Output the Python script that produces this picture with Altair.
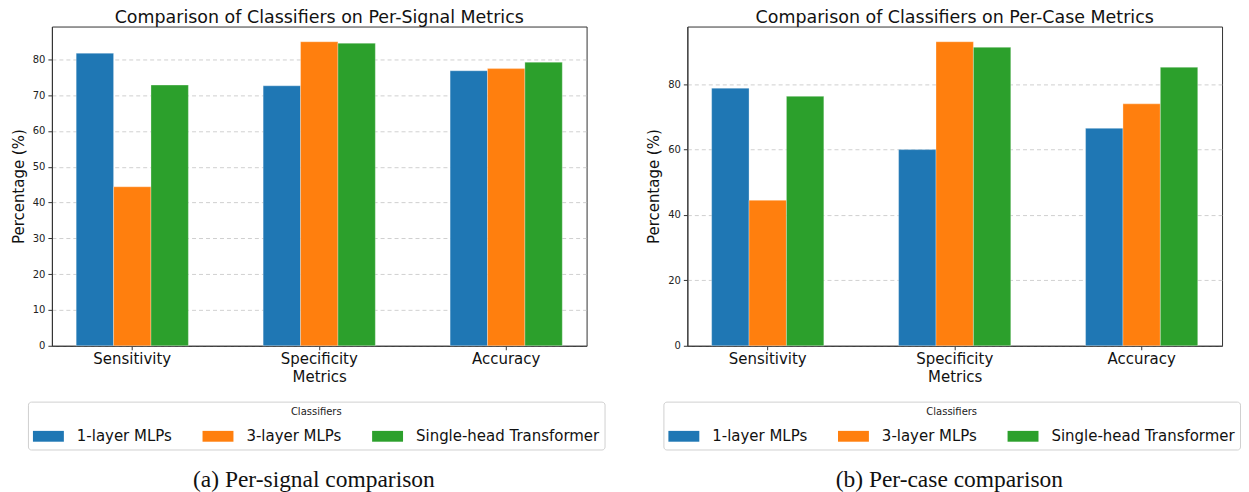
import altair as alt
import pandas as pd

metrics = ["Sensitivity", "Specificity", "Accuracy"]
classifiers = ["1-layer MLPs", "3-layer MLPs", "Single-head Transformer"]
colors = ["#1f77b4", "#ff7f0e", "#2ca02c"]

# Per-signal metrics (%)
signal_mlp1 = [81.7, 72.6, 76.8]
signal_mlp3 = [44.4, 84.9, 77.4]
signal_trans = [72.8, 84.5, 79.2]

# Per-case metrics (%)
case_mlp1 = [78.8, 60.0, 66.5]
case_mlp3 = [44.5, 93.0, 74.0]
case_trans = [76.3, 91.3, 85.2]

signal_ticks = [0, 10, 20, 30, 40, 50, 60, 70, 80]
case_ticks = [0, 20, 40, 60, 80]


def make_df(series):
    rows = []
    for cls, vals in zip(classifiers, series):
        for m, v in zip(metrics, vals):
            rows.append({"Metric": m, "Classifier": cls, "Value": v})
    return pd.DataFrame(rows)


SYMBOL = "M-1,-0.35H1V0.35H-1Z"


def panel(df, title, ymax, ticks, caption):
    bars = alt.Chart(df).mark_bar(stroke="white", strokeWidth=0.6, strokeOpacity=0.5).encode(
        x=alt.X(
            "Metric:N", sort=metrics, title="Metrics",
            scale=alt.Scale(paddingInner=0.4, paddingOuter=0.13),
            axis=alt.Axis(labelAngle=0, labelFontSize=15, titleFontSize=15,
                          titleFontWeight="normal", labelPadding=2, titlePadding=3,
                          tickSize=4, tickColor="#333", domainColor="#333",
                          labelColor="#111", titleColor="#111"),
        ),
        xOffset=alt.XOffset("Classifier:N", sort=classifiers,
                            scale=alt.Scale(paddingInner=0, paddingOuter=0)),
        y=alt.Y(
            "Value:Q", title="Percentage (%)",
            scale=alt.Scale(domain=[0, ymax], nice=False, zero=True),
            axis=alt.Axis(values=ticks, labelFontSize=10, titleFontSize=15,
                          titleFontWeight="normal", labelPadding=3, titlePadding=6,
                          tickSize=4, tickColor="#333", domainColor="#333",
                          grid=True, gridDash=[4, 3], gridColor="#bbbbbb",
                          gridOpacity=0.7, labelColor="#222", titleColor="#111"),
        ),
        color=alt.Color(
            "Classifier:N", sort=classifiers,
            scale=alt.Scale(domain=classifiers, range=colors),
            legend=alt.Legend(
                orient="none", legendX=-24, legendY=376, direction="horizontal",
                columns=3, title="Classifiers", titleFontSize=10,
                titleFontWeight="normal", titleAnchor="middle", titleColor="#222",
                titlePadding=4, labelFontSize=15, labelColor="#111",
                labelLimit=400,
                symbolType=SYMBOL, symbolSize=961, symbolStrokeWidth=0,
                symbolOpacity=1, labelOffset=13, columnPadding=30, padding=5,
                strokeColor="#d0d0d0", cornerRadius=3, fillColor="white",
            ),
        ),
    ).properties(
        width=536, height=320,
        title=alt.TitleParams(title, fontSize=17.5, fontWeight="normal",
                              color="#111", offset=0),
    )
    return alt.vconcat(
        bars,
        title=alt.TitleParams(caption, orient="bottom", font="Liberation Serif",
                              fontSize=23.5, fontWeight="normal", anchor="middle",
                              color="#111", offset=18, dx=6),
    )


left = panel(make_df([signal_mlp1, signal_mlp3, signal_trans]),
             "Comparison of Classifiers on Per-Signal Metrics", 89.15,
             signal_ticks, "(a) Per-signal comparison")
right = panel(make_df([case_mlp1, case_mlp3, case_trans]),
              "Comparison of Classifiers on Per-Case Metrics", 97.65,
              case_ticks, "(b) Per-case comparison")

chart = alt.hconcat(left, right, spacing=40).resolve_scale(
    color="independent", y="independent"
).resolve_legend(color="independent").properties(
    padding={"left": 2, "top": 0, "right": 0, "bottom": 0}
).configure(font="DejaVu Sans").configure_view(stroke="#333", strokeWidth=1)

chart.save("out.html", embed_options={"renderer": "svg", "actions": False})
